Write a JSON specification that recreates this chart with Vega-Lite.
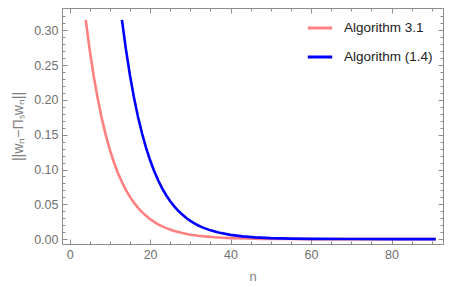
{
  "$schema": "https://vega.github.io/schema/vega-lite/v6.json",
  "autosize": "none",
  "width": 381,
  "height": 236,
  "padding": {"left": 62, "top": 8, "right": 7, "bottom": 43},
  "background": "white",
  "data": {"values": [
    {"n": 4, "v": 0.315, "s": "Algorithm 3.1"},
    {"n": 5, "v": 0.2712, "s": "Algorithm 3.1"},
    {"n": 6, "v": 0.2335, "s": "Algorithm 3.1"},
    {"n": 7, "v": 0.2011, "s": "Algorithm 3.1"},
    {"n": 8, "v": 0.1731, "s": "Algorithm 3.1"},
    {"n": 9, "v": 0.1491, "s": "Algorithm 3.1"},
    {"n": 10, "v": 0.1283, "s": "Algorithm 3.1"},
    {"n": 11, "v": 0.1105, "s": "Algorithm 3.1"},
    {"n": 12, "v": 0.0951, "s": "Algorithm 3.1"},
    {"n": 13, "v": 0.0819, "s": "Algorithm 3.1"},
    {"n": 14, "v": 0.0705, "s": "Algorithm 3.1"},
    {"n": 15, "v": 0.0607, "s": "Algorithm 3.1"},
    {"n": 16, "v": 0.0523, "s": "Algorithm 3.1"},
    {"n": 17, "v": 0.0450, "s": "Algorithm 3.1"},
    {"n": 18, "v": 0.0387, "s": "Algorithm 3.1"},
    {"n": 19, "v": 0.0334, "s": "Algorithm 3.1"},
    {"n": 20, "v": 0.0287, "s": "Algorithm 3.1"},
    {"n": 21, "v": 0.0247, "s": "Algorithm 3.1"},
    {"n": 22, "v": 0.0213, "s": "Algorithm 3.1"},
    {"n": 23, "v": 0.0183, "s": "Algorithm 3.1"},
    {"n": 24, "v": 0.0158, "s": "Algorithm 3.1"},
    {"n": 26, "v": 0.0117, "s": "Algorithm 3.1"},
    {"n": 28, "v": 0.0087, "s": "Algorithm 3.1"},
    {"n": 30, "v": 0.0064, "s": "Algorithm 3.1"},
    {"n": 32, "v": 0.0048, "s": "Algorithm 3.1"},
    {"n": 34, "v": 0.0036, "s": "Algorithm 3.1"},
    {"n": 36, "v": 0.0026, "s": "Algorithm 3.1"},
    {"n": 38, "v": 0.0019, "s": "Algorithm 3.1"},
    {"n": 40, "v": 0.0014, "s": "Algorithm 3.1"},
    {"n": 44, "v": 0.0008, "s": "Algorithm 3.1"},
    {"n": 48, "v": 0.0004, "s": "Algorithm 3.1"},
    {"n": 55, "v": 0.0001, "s": "Algorithm 3.1"},
    {"n": 60, "v": 0.00005, "s": "Algorithm 3.1"},
    {"n": 70, "v": 0.00001, "s": "Algorithm 3.1"},
    {"n": 80, "v": 0.0, "s": "Algorithm 3.1"},
    {"n": 91, "v": 0.0, "s": "Algorithm 3.1"},
    {"n": 13, "v": 0.315, "s": "Algorithm (1.4)"},
    {"n": 14, "v": 0.2722, "s": "Algorithm (1.4)"},
    {"n": 15, "v": 0.2351, "s": "Algorithm (1.4)"},
    {"n": 16, "v": 0.2032, "s": "Algorithm (1.4)"},
    {"n": 17, "v": 0.1755, "s": "Algorithm (1.4)"},
    {"n": 18, "v": 0.1517, "s": "Algorithm (1.4)"},
    {"n": 19, "v": 0.1310, "s": "Algorithm (1.4)"},
    {"n": 20, "v": 0.1132, "s": "Algorithm (1.4)"},
    {"n": 21, "v": 0.0978, "s": "Algorithm (1.4)"},
    {"n": 22, "v": 0.0845, "s": "Algorithm (1.4)"},
    {"n": 23, "v": 0.0730, "s": "Algorithm (1.4)"},
    {"n": 24, "v": 0.0631, "s": "Algorithm (1.4)"},
    {"n": 25, "v": 0.0545, "s": "Algorithm (1.4)"},
    {"n": 26, "v": 0.0471, "s": "Algorithm (1.4)"},
    {"n": 27, "v": 0.0407, "s": "Algorithm (1.4)"},
    {"n": 28, "v": 0.0352, "s": "Algorithm (1.4)"},
    {"n": 29, "v": 0.0304, "s": "Algorithm (1.4)"},
    {"n": 30, "v": 0.0262, "s": "Algorithm (1.4)"},
    {"n": 31, "v": 0.0227, "s": "Algorithm (1.4)"},
    {"n": 32, "v": 0.0196, "s": "Algorithm (1.4)"},
    {"n": 33, "v": 0.0169, "s": "Algorithm (1.4)"},
    {"n": 35, "v": 0.0126, "s": "Algorithm (1.4)"},
    {"n": 37, "v": 0.0094, "s": "Algorithm (1.4)"},
    {"n": 40, "v": 0.0061, "s": "Algorithm (1.4)"},
    {"n": 43, "v": 0.0039, "s": "Algorithm (1.4)"},
    {"n": 46, "v": 0.0025, "s": "Algorithm (1.4)"},
    {"n": 50, "v": 0.0014, "s": "Algorithm (1.4)"},
    {"n": 55, "v": 0.0007, "s": "Algorithm (1.4)"},
    {"n": 60, "v": 0.0003, "s": "Algorithm (1.4)"},
    {"n": 70, "v": 0.0001, "s": "Algorithm (1.4)"},
    {"n": 80, "v": 0.0, "s": "Algorithm (1.4)"},
    {"n": 91, "v": 0.0, "s": "Algorithm (1.4)"}
  ]},
  "layer": [
    {
      "mark": {"type": "line", "opacity": 0},
      "encoding": {
        "x": {"field": "n", "type": "quantitative", "scale": {"domain": [-1.9, 92.8], "nice": false, "zero": false},
          "axis": {"orient": "bottom", "values": [5,10,15,25,30,35,45,50,55,65,70,75,85,90], "labels": false, "title": null, "tickSize": -3, "domain": false}},
        "y": {"field": "v", "type": "quantitative", "scale": {"domain": [-0.007, 0.332], "nice": false, "zero": false},
          "axis": {"orient": "left", "values": [0.01,0.02,0.03,0.04,0.06,0.07,0.08,0.09,0.11,0.12,0.13,0.14,0.16,0.17,0.18,0.19,0.21,0.22,0.23,0.24,0.26,0.27,0.28,0.29,0.31,0.32], "labels": false, "title": null, "tickSize": -3, "domain": false}},
        "detail": {"field": "s"}
      }
    },
    {
      "mark": {"type": "line", "opacity": 0},
      "encoding": {
        "x": {"field": "n", "type": "quantitative",
          "axis": {"orient": "top", "values": [5,10,15,25,30,35,45,50,55,65,70,75,85,90], "labels": false, "title": null, "tickSize": -3, "domain": false}},
        "y": {"field": "v", "type": "quantitative",
          "axis": {"orient": "right", "values": [0.01,0.02,0.03,0.04,0.06,0.07,0.08,0.09,0.11,0.12,0.13,0.14,0.16,0.17,0.18,0.19,0.21,0.22,0.23,0.24,0.26,0.27,0.28,0.29,0.31,0.32], "labels": false, "title": null, "tickSize": -3, "domain": false}},
        "detail": {"field": "s"}
      }
    },
    {
      "mark": {"type": "line", "opacity": 0},
      "encoding": {
        "x": {"field": "n", "type": "quantitative",
          "axis": {"orient": "top", "values": [0,20,40,60,80], "labels": false, "title": null, "tickSize": -5, "domain": true}},
        "y": {"field": "v", "type": "quantitative",
          "axis": {"orient": "right", "values": [0,0.05,0.1,0.15,0.2,0.25,0.3], "labels": false, "title": null, "tickSize": -5, "domain": true}},
        "detail": {"field": "s"}
      }
    },
    {
      "mark": {"type": "line", "strokeWidth": 2.6},
      "encoding": {
        "x": {"field": "n", "type": "quantitative",
          "axis": {"orient": "bottom", "values": [0,20,40,60,80], "title": "n", "tickSize": -5, "labelPadding": 9, "titlePadding": 10, "titleFontSize": 13, "format": "d"}},
        "y": {"field": "v", "type": "quantitative",
          "axis": {"orient": "left", "values": [0,0.05,0.1,0.15,0.2,0.25,0.3], "title": "||wₙ−Πₛwₙ||", "tickSize": -5, "labelPadding": 9, "format": ".2f", "titlePadding": 8, "titleFontSize": 14}},
        "color": {"field": "s", "type": "nominal", "sort": null,
          "scale": {"domain": ["Algorithm 3.1", "Algorithm (1.4)"], "range": ["#FF8080", "#0000FF"]},
          "legend": {"title": null, "orient": "none", "legendX": 244, "legendY": 6, "symbolType": "stroke", "symbolSize": 600, "symbolStrokeWidth": 3, "labelFontSize": 13.5, "labelColor": "#222", "rowPadding": 8, "labelOffset": 10}}
      }
    }
  ],
  "resolve": {"axis": {"x": "independent", "y": "independent"}},
  "config": {
    "view": {"stroke": null},
    "font": "Liberation Sans",
    "axis": {"grid": false, "domainColor": "#8c8c8c", "tickColor": "#8c8c8c", "labelColor": "#707070", "labelFontSize": 12.5, "labelFont": "Liberation Sans", "titleFont": "Liberation Sans", "titleColor": "#808080", "titleFontSize": 12, "titleFontWeight": "normal", "domainWidth": 1, "labelFlush": false, "labelOverlap": false},
    "legend": {"labelFont": "Liberation Sans"}
  }
}
